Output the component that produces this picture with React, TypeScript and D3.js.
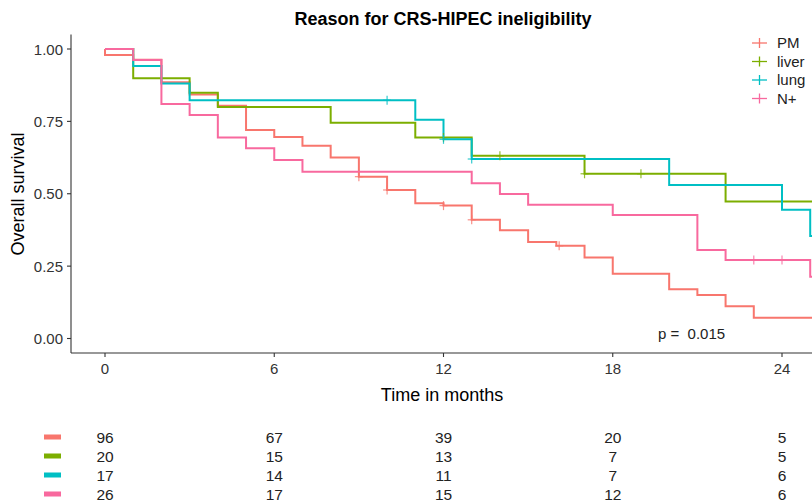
import React from "react";
import * as d3 from "d3";

const groups = ["PM", "liver", "lung", "N+"];

const pmTime = [0, 0, 1, 2, 3, 4, 5, 6, 7, 8, 9, 10, 11, 12, 13, 14, 15, 16, 17, 18, 20, 21, 22, 23, 25.6];
const pmSurv = [1, 0.979, 0.963, 0.885, 0.843, 0.804, 0.72, 0.696, 0.666, 0.625, 0.559, 0.513, 0.467, 0.459, 0.41, 0.374, 0.333, 0.32, 0.28, 0.224, 0.17, 0.15, 0.111, 0.072, 0.072];
const pmCensor = [9, 10, 12, 13, 16.1];

const liverTime = [0, 1, 3, 4, 8, 11, 13, 17, 22, 25.6];
const liverSurv = [1, 0.899, 0.849, 0.8, 0.745, 0.694, 0.631, 0.569, 0.473, 0.473];
const liverCensor = [12, 14, 17, 19];

const lungTime = [0, 1, 2, 3, 11, 12, 13, 20, 24, 25, 25.6];
const lungSurv = [1, 0.941, 0.881, 0.823, 0.756, 0.688, 0.62, 0.53, 0.445, 0.354, 0.354];
const lungCensor = [10, 12, 13];

const nTime = [0, 1, 2, 3, 4, 5, 6, 7, 13, 14, 15, 18, 21, 22, 25, 25.6];
const nSurv = [1, 0.962, 0.81, 0.772, 0.694, 0.657, 0.617, 0.576, 0.536, 0.499, 0.462, 0.427, 0.306, 0.271, 0.213, 0.213];
const nCensor = [23, 24];

const xTicks = [0, 6, 12, 18, 24];
const yTicks = [0, 0.25, 0.5, 0.75, 1];
const yTickLabels = ["0.00", "0.25", "0.50", "0.75", "1.00"];

const riskPM = [96, 67, 39, 20, 5];
const riskLiver = [20, 15, 13, 7, 5];
const riskLung = [17, 14, 11, 7, 6];
const riskN = [26, 17, 15, 12, 6];

const pValue = "p =  0.015";

const colors = ["#F8766D", "#7CAE00", "#00BFC4", "#F8699E"];

const series = [
  { time: pmTime, surv: pmSurv, censor: pmCensor, risk: riskPM },
  { time: liverTime, surv: liverSurv, censor: liverCensor, risk: riskLiver },
  { time: lungTime, surv: lungSurv, censor: lungCensor, risk: riskLung },
  { time: nTime, surv: nSurv, censor: nCensor, risk: riskN },
];

const FONT = "'Liberation Sans', Arial, sans-serif";

function survAt(time: number[], surv: number[], t: number) {
  let v = surv[0];
  for (let i = 0; i < time.length; i++) {
    if (time[i] <= t) v = surv[i];
  }
  return v;
}

export default function App() {
  const W = 812;
  const H = 504;
  const x = d3.scaleLinear().domain([0, 24]).range([105, 782]);
  const y = d3.scaleLinear().domain([0, 1]).range([338.5, 49]);
  const panelLeft = 71;
  const panelBottom = 353;
  const panelTop = 34.5;

  const line = d3
    .line<[number, number]>()
    .x((d) => x(d[0]))
    .y((d) => y(d[1]))
    .curve(d3.curveStepAfter);

  const rowY = [437, 456, 475, 494];
  const legendY = [43, 61.5, 80, 98.5];

  return (
    <svg
      width={W}
      height={H}
      style={{ position: "absolute", left: 0, top: 0, background: "#fff" }}
      fontFamily={FONT}
    >
      <rect x={0} y={0} width={W} height={H} fill="#fff" />
      {/* title */}
      <text x={443} y={25} textAnchor="middle" fontSize={18} fontWeight="bold" fill="#000">
        Reason for CRS-HIPEC ineligibility
      </text>

      {/* curves */}
      {series.map((s, i) => (
        <path
          key={"l" + i}
          d={line(s.time.map((t, j) => [t, s.surv[j]] as [number, number])) || ""}
          fill="none"
          stroke={colors[i]}
          strokeWidth={2}
        />
      ))}
      {/* censor marks */}
      {series.map((s, i) =>
        s.censor.map((c, j) => {
          const cx = x(c);
          const cy = y(survAt(s.time, s.surv, c));
          return (
            <g key={"c" + i + "_" + j} stroke={colors[i]} strokeWidth={1.2} opacity={0.8}>
              <line x1={cx} x2={cx} y1={cy - 4.5} y2={cy + 4.5} />
              <line x1={cx - 4} x2={cx + 4} y1={cy} y2={cy} />
            </g>
          );
        })
      )}

      {/* axes */}
      <line x1={panelLeft} x2={panelLeft} y1={panelTop} y2={panelBottom} stroke="#333" strokeWidth={1.1} />
      <line x1={panelLeft} x2={W} y1={panelBottom} y2={panelBottom} stroke="#333" strokeWidth={1.1} />
      {yTicks.map((v, i) => (
        <g key={"yt" + i}>
          <line x1={panelLeft - 4} x2={panelLeft} y1={y(v)} y2={y(v)} stroke="#333" strokeWidth={1.1} />
          <text x={panelLeft - 8} y={y(v) + 5.5} textAnchor="end" fontSize={15} fill="#333">
            {yTickLabels[i]}
          </text>
        </g>
      ))}
      {xTicks.map((v, i) => (
        <g key={"xt" + i}>
          <line x1={x(v)} x2={x(v)} y1={panelBottom} y2={panelBottom + 4} stroke="#333" strokeWidth={1.1} />
          <text x={x(v)} y={373.5} textAnchor="middle" fontSize={15} fill="#333">
            {v}
          </text>
        </g>
      ))}
      <text x={442} y={401} textAnchor="middle" fontSize={18} fill="#000">
        Time in months
      </text>
      <text
        transform={`translate(24, 194) rotate(-90)`}
        textAnchor="middle"
        fontSize={18}
        fill="#000"
      >
        Overall survival
      </text>

      {/* p value */}
      <text x={658} y={339} fontSize={15} fill="#222" style={{ whiteSpace: "pre" }}>
        {pValue}
      </text>

      {/* legend */}
      {groups.map((g, i) => (
        <g key={"lg" + i}>
          <line x1={752} x2={767} y1={legendY[i]} y2={legendY[i]} stroke={colors[i]} strokeWidth={1.3} />
          <line x1={759.5} x2={759.5} y1={legendY[i] - 5} y2={legendY[i] + 5} stroke={colors[i]} strokeWidth={1.3} />
          <text x={777} y={legendY[i] + 5} fontSize={15} fill="#222">
            {g}
          </text>
        </g>
      ))}

      {/* risk table */}
      {series.map((s, i) => (
        <g key={"rt" + i}>
          <rect x={44} y={rowY[i] - 2.5} width={17} height={5} fill={colors[i]} />
          {s.risk.map((n, j) => (
            <text key={j} x={x(xTicks[j])} y={rowY[i] + 5.5} textAnchor="middle" fontSize={15.5} fill="#222">
              {n}
            </text>
          ))}
        </g>
      ))}
    </svg>
  );
}
